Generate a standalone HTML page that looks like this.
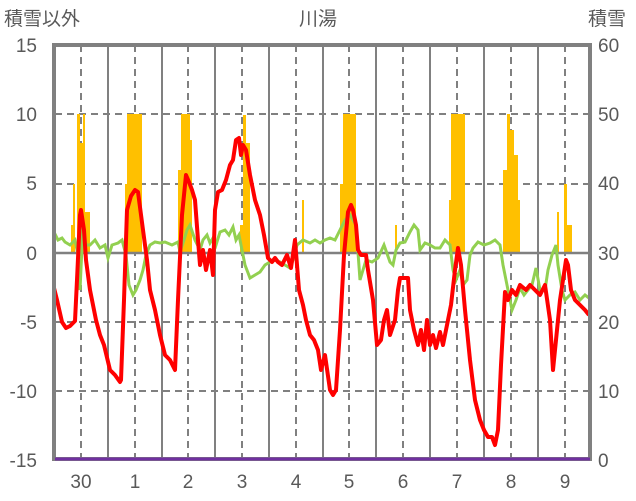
<!DOCTYPE html><html><head><meta charset="utf-8"><style>body{margin:0;background:#fff}svg{display:block;font-family:"Liberation Sans","Noto Sans CJK JP",sans-serif}</style></head><body>
<svg width="636" height="501" viewBox="0 0 636 501">
<g font-size="19" fill="#595959">
<text x="4" y="25">積雪以外</text><text x="318" y="25" text-anchor="middle">川湯</text><text x="588" y="25">積雪</text>
<g text-anchor="end"><text x="37" y="52">15</text><text x="37" y="121">10</text><text x="37" y="190">5</text><text x="37" y="260">0</text><text x="37" y="329">-5</text><text x="37" y="398">-10</text><text x="37" y="467">-15</text></g>
<g><text x="598" y="52">60</text><text x="598" y="121">50</text><text x="598" y="190">40</text><text x="598" y="260">30</text><text x="598" y="329">20</text><text x="598" y="398">10</text><text x="598" y="467">0</text></g>
<g text-anchor="middle"><text x="81" y="488">30</text><text x="135" y="488">1</text><text x="188" y="488">2</text><text x="242" y="488">3</text><text x="296" y="488">4</text><text x="349" y="488">5</text><text x="403" y="488">6</text><text x="457" y="488">7</text><text x="511" y="488">8</text><text x="565" y="488">9</text></g>
</g>
<g stroke="#808080" stroke-width="2" stroke-dasharray="7,5">
<line x1="55" x2="590" y1="114" y2="114"/><line x1="55" x2="590" y1="184" y2="184"/><line x1="55" x2="590" y1="322" y2="322"/><line x1="55" x2="590" y1="391" y2="391"/>
<line x1="81" x2="81" y1="45" y2="459"/><line x1="135" x2="135" y1="45" y2="459"/><line x1="188" x2="188" y1="45" y2="459"/><line x1="242" x2="242" y1="45" y2="459"/><line x1="296" x2="296" y1="45" y2="459"/><line x1="349" x2="349" y1="45" y2="459"/><line x1="403" x2="403" y1="45" y2="459"/><line x1="457" x2="457" y1="45" y2="459"/><line x1="511" x2="511" y1="45" y2="459"/><line x1="565" x2="565" y1="45" y2="459"/>
</g>
<g stroke="#808080" stroke-width="2">
<line x1="108" x2="108" y1="45" y2="459"/><line x1="162" x2="162" y1="45" y2="459"/><line x1="215" x2="215" y1="45" y2="459"/><line x1="269" x2="269" y1="45" y2="459"/><line x1="323" x2="323" y1="45" y2="459"/><line x1="376" x2="376" y1="45" y2="459"/><line x1="430" x2="430" y1="45" y2="459"/><line x1="484" x2="484" y1="45" y2="459"/><line x1="538" x2="538" y1="45" y2="459"/>
</g>
<g fill="#FFC000">
<rect x="71" y="225" width="2" height="28"/><rect x="73" y="184" width="2" height="69"/><rect x="77" y="114" width="3" height="139"/><rect x="80" y="143" width="3" height="110"/><rect x="83" y="114" width="2" height="139"/><rect x="85" y="212" width="5" height="41"/>
<rect x="125" y="184" width="2" height="69"/><rect x="127" y="114" width="15" height="139"/>
<rect x="178" y="170" width="3" height="83"/><rect x="181" y="114" width="9" height="139"/><rect x="190" y="140" width="2" height="113"/>
<rect x="240" y="225" width="3" height="28"/><rect x="243" y="115" width="3" height="138"/><rect x="246" y="143" width="4" height="110"/>
<rect x="302" y="200" width="2" height="53"/>
<rect x="340" y="184" width="3" height="69"/><rect x="343" y="114" width="13" height="139"/>
<rect x="395" y="225" width="2" height="28"/>
<rect x="449" y="200" width="2" height="53"/><rect x="451" y="114" width="14" height="139"/>
<rect x="503" y="170" width="4" height="83"/><rect x="507" y="114" width="3" height="139"/><rect x="510" y="130" width="4" height="123"/><rect x="514" y="155" width="4" height="98"/><rect x="518" y="200" width="2" height="53"/>
<rect x="557" y="212" width="2" height="41"/><rect x="564" y="184" width="3" height="69"/><rect x="567" y="225" width="5" height="28"/>
</g>
<line x1="55" x2="590" y1="253" y2="253" stroke="#808080" stroke-width="2.5"/>
<polyline fill="none" stroke="#92D050" stroke-width="3" points="54,232 58,240 62,238 65,242 70,245 75,240 78,255 80,290 83,225 86,245 90,245 95,240 100,248 105,245 108,258 112,245 118,243 122,240 126,255 129,285 133,295 136,290 140,280 143,270 146,255 150,245 155,242 160,243 165,242 172,245 178,242 180,252 184,240 187,230 190,225 195,240 200,250 203,240 207,235 210,243 213,238 216,245 220,232 225,230 229,235 233,227 236,240 239,235 242,250 245,265 250,278 255,275 260,272 265,265 270,262 275,260 280,262 285,265 290,268 293,260 297,245 303,240 310,243 315,240 320,243 325,240 330,238 335,240 340,230 345,220 350,215 356,225 360,280 363,270 366,260 372,262 378,258 384,245 390,262 393,265 396,250 400,243 405,242 410,232 414,225 418,230 420,250 425,243 430,245 435,248 440,248 445,240 450,245 453,270 456,280 460,270 463,285 467,280 470,255 473,248 478,242 484,245 490,243 495,240 500,245 503,265 508,290 512,310 516,300 520,288 524,295 528,290 532,285 536,268 540,290 545,290 548,270 552,255 556,245 558,265 562,290 565,300 570,295 575,292 580,300 585,295 589,298"/>
<polyline fill="none" stroke="#FF0000" stroke-width="4" stroke-linejoin="round" points="54,288 57,300 62,322 66,328 70,326 75,321 77,280 80,215 81,210 84,230 86,260 90,290 96,320 100,335 104,345 110,370 115,375 120,382 121,380 124,300 127,210 131,196 135,190 138,192 143,230 147,260 150,290 155,310 160,335 165,355 170,360 175,370 178,300 182,215 186,175 189,182 192,190 195,200 198,240 200,265 203,250 206,270 210,250 213,275 215,210 218,192 222,190 226,180 230,165 233,160 236,140 239,138 241,155 243,145 246,150 250,175 255,200 260,215 264,235 268,258 272,262 275,258 278,262 282,265 287,255 291,268 295,240 299,290 303,305 306,320 310,335 314,340 318,350 321,370 325,355 330,390 333,395 336,390 340,330 344,255 348,212 351,205 353,210 356,225 358,250 361,255 366,255 368,270 373,300 377,345 381,340 384,320 387,310 390,335 395,320 398,290 400,278 408,278 410,310 414,330 418,345 421,330 424,350 427,320 430,345 433,335 436,348 440,332 443,345 447,325 451,305 455,270 458,248 461,265 465,310 470,360 475,400 480,420 484,430 488,437 492,437 495,445 498,430 501,365 505,292 508,300 512,290 516,295 520,285 526,290 530,285 535,290 540,295 545,285 550,320 553,370 556,340 560,300 563,280 566,260 568,265 571,290 575,300 580,305 585,310 589,315"/>
<line x1="55" x2="590" y1="459" y2="459" stroke="#7030A0" stroke-width="3"/>
<rect x="54" y="45" width="536" height="414" fill="none" stroke="#808080" stroke-width="4"/>
<line x1="55" x2="590" y1="459" y2="459" stroke="#7030A0" stroke-width="3"/>
</svg></body></html>
